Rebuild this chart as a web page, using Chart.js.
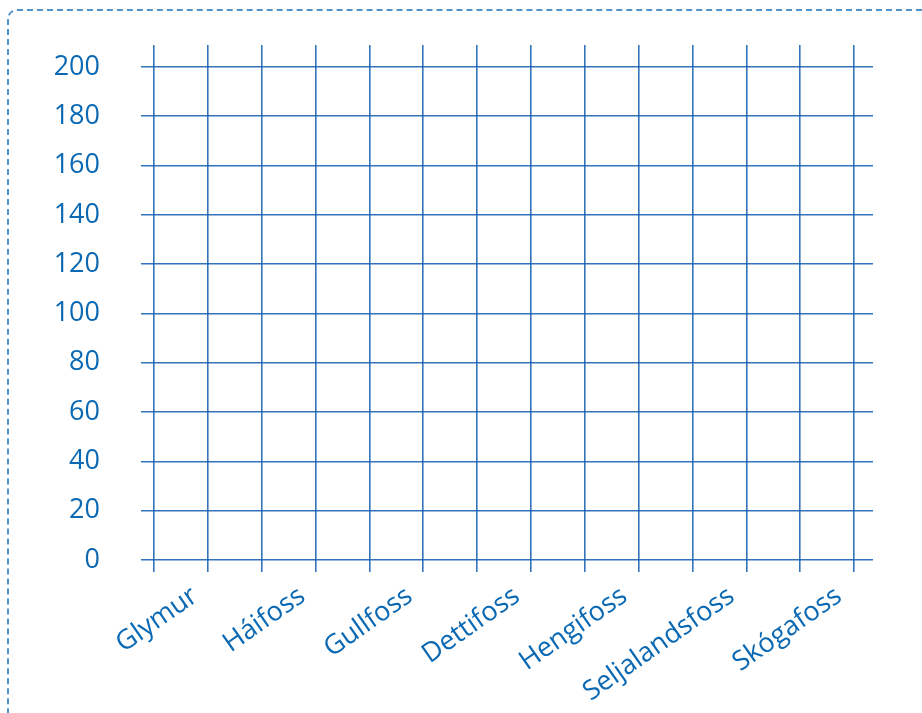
<!DOCTYPE html>
<html>
<head>
<meta charset="utf-8">
<script src="https://cdn.jsdelivr.net/npm/chart.js@4.4.1/dist/chart.umd.min.js"></script>
<style>
  html, body { margin: 0; padding: 0; background: #fff; overflow: hidden; }
  #frame {
    position: absolute; left: 7px; top: 9px; width: 940px; height: 740px;
    border: 2px dashed #4f93cc; border-radius: 10px; box-sizing: border-box;
  }
  #wrap { position: absolute; left: 0; top: 0; width: 922px; height: 713px; }
</style>
</head>
<body>
<div id="frame"></div>
<div id="wrap"><canvas id="c" width="922" height="713"></canvas></div>
<script>
// Categories (waterfalls)
const waterfalls = ["Glymur", "Háifoss", "Gullfoss", "Dettifoss", "Hengifoss", "Seljalandsfoss", "Skógafoss"];
// Heights (blank worksheet – no values drawn)
const heights = [null, null, null, null, null, null, null];
// Y-axis tick labels
const yTickLabels = [0, 20, 40, 60, 80, 100, 120, 140, 160, 180, 200];
// Vertical grid columns of the worksheet (grid-line indices)
const gridColumns = [0, 1, 2, 3, 4, 5, 6, 7, 8, 9, 10, 11, 12, 13];

const TEXT = "#0b69b3";
const GRID = "rgba(22,96,176,0.88)";
const FONT = "'Open Sans', 'Noto Sans', sans-serif";

const gridTicks = (axis) => { axis.ticks = gridColumns.map(v => ({ value: v })); };

new Chart(document.getElementById("c"), {
  type: "bar",
  data: {
    datasets: [{
      label: "Height",
      data: heights.map((h, i) => ({ x: i, y: h })),
      xAxisID: "x", yAxisID: "y", backgroundColor: "#1f6fb8"
    }]
  },
  options: {
    responsive: false,
    animation: false,
    layout: { padding: { top: 45, right: 49, left: 0, bottom: 0 } },
    plugins: { legend: { display: false }, tooltip: { enabled: false } },
    scales: {
      x: {
        type: "linear",
        position: "bottom",
        weight: 2,
        offset: false,
        min: -0.503, max: 6.317,
        afterBuildTicks: (axis) => { axis.ticks = waterfalls.map((w, i) => ({ value: i })); },
        afterFit: (axis) => { axis.height = 141; },
        grid: { display: false, offset: false },
        border: { display: false },
        ticks: {
          color: TEXT, font: { family: FONT, size: 27 },
          callback: (v) => waterfalls[v],
          minRotation: 35, maxRotation: 35, padding: 0, autoSkip: false
        }
      },
      xg: {
        type: "linear",
        position: "bottom",
        weight: 1,
        offset: false,
        min: -0.2414, max: 13.353,
        afterBuildTicks: gridTicks,
        grid: { color: GRID, lineWidth: 1.6, tickLength: 12, drawOnChartArea: true, offset: false },
        border: { display: false },
        ticks: { display: false, autoSkip: false }
      },
      xt: {
        type: "linear",
        position: "top",
        offset: false,
        min: -0.2414, max: 13.353,
        afterBuildTicks: gridTicks,
        grid: { color: GRID, lineWidth: 1.6, tickLength: 22, drawOnChartArea: false, offset: false },
        border: { display: false },
        ticks: { display: false, autoSkip: false }
      },
      y: {
        min: yTickLabels[0],
        max: yTickLabels[yTickLabels.length - 1],
        afterBuildTicks: (axis) => { axis.ticks = yTickLabels.map(v => ({ value: v })); },
        afterFit: (axis) => { axis.width = 141; },
        grid: { color: GRID, lineWidth: 1.6, drawTicks: false },
        border: { display: false },
        ticks: { color: TEXT, font: { family: FONT, size: 27 }, padding: 41 }
      }
    }
  }
});
</script>
</body>
</html>
